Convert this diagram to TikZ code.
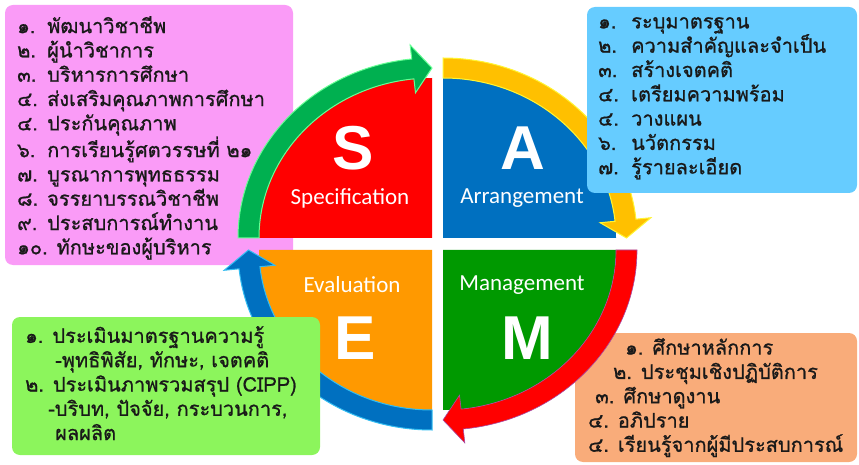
\documentclass[tikz,border=0pt]{standalone}
\usepackage{fontspec}
\usetikzlibrary{calc}
\newfontfamily\thaifont[Script=Thai,FakeBold=0.9]{Loma}
\newfontfamily\labelfont{Carlito}
\newfontfamily\letterfont{Liberation Sans}
\definecolor{pinkbox}{RGB}{250,155,247}
\definecolor{skybox}{RGB}{102,204,255}
\definecolor{limebox}{RGB}{140,245,92}
\definecolor{peachbox}{RGB}{249,172,122}
\definecolor{specred}{RGB}{255,0,0}
\definecolor{arrblue}{RGB}{0,112,192}
\definecolor{mgmtgreen}{RGB}{0,153,0}
\definecolor{evalorange}{RGB}{255,153,0}
\definecolor{bandgreen}{RGB}{0,176,80}
\definecolor{bandyellow}{RGB}{255,192,0}
\newcommand{\itemno}[2][30pt]{\makebox[#1][l]{#2}}

\begin{document}
\begin{tikzpicture}[x=1pt,y=1pt,
                    listbox/.style={rounded corners=8pt},
                    listtext/.style={anchor=north west,align=left,inner sep=0pt,text=black!90,
                                     font=\thaifont\fontsize{20}{24.3}\selectfont},
                    bigletter/.style={text=white,font=\letterfont\bfseries\fontsize{62}{62}\selectfont},
                    steplabel/.style={text=white,font=\labelfont\fontsize{23}{23}\selectfont}]
\useasboundingbox (0,0) rectangle (859,464);

\coordinate (cS) at (432,226);
\coordinate (cA) at (443,226);
\coordinate (cM) at (443,214);
\coordinate (cE) at (432,214);

% boxes under the wheel
\fill[pinkbox,listbox] (5,199) rectangle (293,459);
\node[listtext] (specList) at (17,448) {\itemno{๑.}พัฒนาวิชาชีพ\\
    \itemno{๒.}ผู้นำวิชาการ\\
    \itemno{๓.}บริหารการศึกษา\\
    \itemno{๔.}ส่งเสริมคุณภาพการศึกษา\\
    \itemno{๔.}ประกันคุณภาพ\\
    \itemno{๖.}การเรียนรู้ศตวรรษที่ ๒๑\\
    \itemno{๗.}บูรณาการพุทธธรรม\\
    \itemno{๘.}จรรยาบรรณวิชาชีพ\\
    \itemno{๙.}ประสบการณ์ทำงาน\\
    ๑๐. ทักษะของผู้บริหาร};
\fill[peachbox,listbox] (575,2) rectangle (857,131);
\node[listtext] (mgmtList) at (588,126) {\hspace*{37pt}๑. ศึกษาหลักการ\\
    \hspace*{25pt}๒. ประชุมเชิงปฏิบัติการ\\
    \hspace*{7pt}๓. ศึกษาดูงาน\\
    ๔. อภิปราย\\
    ๔. เรียนรู้จากผู้มีประสบการณ์};

% wheel
\fill[specred] (cS) -- ++(180:173 and 160) arc[start angle=180,end angle=90,x radius=173,y radius=160] -- cycle;
\fill[arrblue] (cA) -- ++(0:173 and 160) arc[start angle=0,end angle=90,x radius=173,y radius=160] -- cycle;
\fill[mgmtgreen] (cM) -- ++(0:173 and 160) arc[start angle=0,end angle=-90,x radius=173,y radius=160] -- cycle;
\fill[evalorange] (cE) -- ++(180:173 and 160) arc[start angle=180,end angle=270,x radius=173,y radius=160] -- cycle;

\filldraw[fill=bandgreen,draw=green!70!cyan!60,line width=1pt]
    ($(cS)+(180:173 and 160)$) -- ($(cS)+(180:194 and 180)$)
    arc[start angle=180,end angle=96,x radius=194,y radius=180]
    -- ($(cS)+(96:209 and 194)$) -- ($(cS)+(90:183.5 and 170)$) -- ($(cS)+(96:158 and 146)$)
    -- ($(cS)+(96:173 and 160)$) arc[start angle=96,end angle=180,x radius=173,y radius=160] -- cycle;
\filldraw[fill=bandyellow,draw=yellow!80!white,line width=1pt]
    ($(cA)+(90:173 and 160)$) -- ($(cA)+(90:194 and 180)$)
    arc[start angle=90,end angle=6,x radius=194,y radius=180]
    -- ($(cA)+(6:209 and 194)$) -- ($(cA)+(0:183.5 and 170)$) -- ($(cA)+(6:158 and 146)$)
    -- ($(cA)+(6:173 and 160)$) arc[start angle=6,end angle=90,x radius=173,y radius=160] -- cycle;
\filldraw[fill=specred,draw=violet!70,line width=0.6pt]
    ($(cM)+(0:173 and 160)$) -- ($(cM)+(0:194 and 180)$)
    arc[start angle=0,end angle=-84,x radius=194,y radius=180]
    -- ($(cM)+(-84:209 and 194)$) -- ($(cM)+(-90:183.5 and 170)$) -- ($(cM)+(-84:158 and 146)$)
    -- ($(cM)+(-84:173 and 160)$) arc[start angle=-84,end angle=0,x radius=173,y radius=160] -- cycle;
\filldraw[fill=arrblue,draw=cyan!80,line width=1pt]
    ($(cE)+(270:173 and 160)$) -- ($(cE)+(270:194 and 180)$)
    arc[start angle=270,end angle=186,x radius=194,y radius=180]
    -- ($(cE)+(186:209 and 194)$) -- ($(cE)+(180:183.5 and 170)$) -- ($(cE)+(186:158 and 146)$)
    -- ($(cE)+(186:173 and 160)$) arc[start angle=186,end angle=270,x radius=173,y radius=160] -- cycle;

\node[bigletter] (sLetter) at (353,316) {S};
\node[bigletter] (aLetter) at (523,316) {A};
\node[bigletter] (eLetter) at (355,126) {E};
\node[bigletter] (mLetter) at (527,126) {M};
\node[steplabel] (sLabel) at (350,266) {Specification};
\node[steplabel] (aLabel) at (522,266) {Arrangement};
\node[steplabel] (eLabel) at (352,179) {Evaluation};
\node[steplabel] (mLabel) at (522,179) {Management};

% boxes over the wheel
\fill[skybox,listbox] (587,271) rectangle (857,457);
\node[listtext] (arrList) at (598,447) {\itemno[33pt]{๑.}ระบุมาตรฐาน\\
    \itemno[33pt]{๒.}ความสำคัญและจำเป็น\\
    \itemno[33pt]{๓.}สร้างเจตคติ\\
    \itemno[33pt]{๔.}เตรียมความพร้อม\\
    \itemno[33pt]{๔.}วางแผน\\
    \itemno[33pt]{๖.}นวัตกรรม\\
    \itemno[33pt]{๗.}รู้รายละเอียด};
\fill[limebox,listbox] (12,9) rectangle (320,147);
\node[listtext] (evalList) at (25,138) {๑. ประเมินมาตรฐานความรู้\\
    \hspace*{30pt}-พุทธิพิสัย, ทักษะ, เจตคติ\\
    ๒. ประเมินภาพรวมสรุป (CIPP)\\
    \hspace*{23pt}-บริบท, ปัจจัย, กระบวนการ,\\
    \hspace*{30pt}ผลผลิต};
\end{tikzpicture}
\end{document}
